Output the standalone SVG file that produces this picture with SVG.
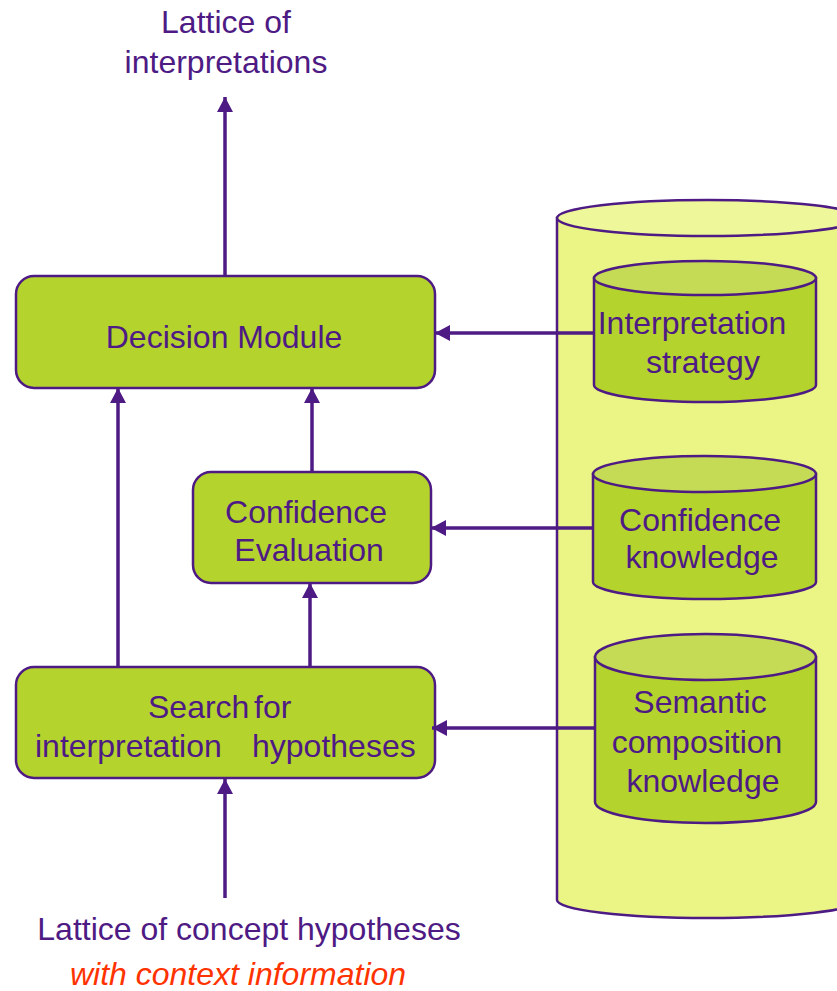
<svg xmlns="http://www.w3.org/2000/svg" width="837" height="991" viewBox="0 0 837 991">
<defs>
<style>
.t{font-family:"Liberation Sans",Arial,sans-serif;font-size:32px;fill:#4E1A84;}
.c{text-anchor:middle;}
.box{fill:#B5D32D;stroke:#4E1A84;stroke-width:2.5;}
.cyl{fill:#B5D32D;stroke:#4E1A84;stroke-width:2.5;}
.cyltop{fill:#C5DA55;stroke:#4E1A84;stroke-width:2.5;}
.big{fill:#EBF585;stroke:#4E1A84;stroke-width:2.5;}
.bigtop{fill:#EEF79A;stroke:#4E1A84;stroke-width:2.5;}
.ln{fill:none;stroke:#4E1A84;stroke-width:3.5;}
.red{font-family:"Liberation Sans",Arial,sans-serif;font-size:32px;font-style:italic;fill:#FF3300;}
</style>
<marker id="ah" viewBox="0 0 15 16" refX="15" refY="8" markerWidth="15" markerHeight="16" markerUnits="userSpaceOnUse" orient="auto">
<path d="M0,0 L15,8 L0,16 Z" fill="#4E1A84"/>
</marker>
</defs>
<rect width="837" height="991" fill="#FFFFFF"/>

<g id="knowledge-base">
<path class="big" d="M557,218 L557,900 A151,18 0 0 0 859,900 L859,218 Z"/>
<ellipse class="bigtop" cx="708" cy="218" rx="151" ry="18"/>
</g>

<g id="interpretation-strategy">
<path class="cyl" d="M594,278 L594,385 A111,17 0 0 0 816,385 L816,278 Z"/>
<ellipse class="cyltop" cx="705" cy="278" rx="111" ry="17"/>
<text class="t c" x="692" y="334">Interpretation</text>
<text class="t c" x="703" y="373">strategy</text>
</g>

<g id="confidence-knowledge">
<path class="cyl" d="M593,474 L593,582 A111.5,17 0 0 0 816,582 L816,474 Z"/>
<ellipse class="cyltop" cx="704.5" cy="474" rx="111.5" ry="18"/>
<text class="t c" x="700" y="531">Confidence</text>
<text class="t c" x="702" y="568">knowledge</text>
</g>

<g id="semantic-composition-knowledge">
<path class="cyl" d="M595,657 L595,802 A110.5,21 0 0 0 816,802 L816,657 Z"/>
<ellipse class="cyltop" cx="705.5" cy="657" rx="110.5" ry="23"/>
<text class="t c" x="700" y="713">Semantic</text>
<text class="t c" x="697" y="753">composition</text>
<text class="t c" x="703" y="792">knowledge</text>
</g>

<g id="decision-module">
<rect class="box" x="16" y="276" width="419" height="112" rx="18" ry="18"/>
<text class="t c" x="224" y="348">Decision Module</text>
</g>

<g id="confidence-evaluation">
<rect class="box" x="193" y="472" width="238" height="111" rx="18" ry="18"/>
<text class="t c" x="306" y="523">Confidence</text>
<text class="t c" x="309" y="561">Evaluation</text>
</g>

<g id="search">
<rect class="box" x="16" y="667" width="419" height="111" rx="18" ry="18"/>
<text class="t" y="718"><tspan x="148">Search</tspan><tspan x="254">for</tspan></text>
<text class="t" y="757"><tspan x="35">interpretation</tspan><tspan x="252">hypotheses</tspan></text>
</g>

<g id="labels">
<text class="t c" x="226" y="33">Lattice of</text>
<text class="t c" x="226" y="73">interpretations</text>
<text class="t c" x="249" y="940">Lattice of concept hypotheses</text>
<text class="red c" x="238" y="985">with context information</text>
</g>

<g id="connectors">
<path class="ln" d="M225,276 L225,97" marker-end="url(#ah)"/>
<path class="ln" d="M594,333 L435,333" marker-end="url(#ah)"/>
<path class="ln" d="M593,528 L431,528" marker-end="url(#ah)"/>
<path class="ln" d="M595,728 L432,728" marker-end="url(#ah)"/>
<path class="ln" d="M118,667 L118,388" marker-end="url(#ah)"/>
<path class="ln" d="M310,667 L310,583" marker-end="url(#ah)"/>
<path class="ln" d="M312,472 L312,388" marker-end="url(#ah)"/>
<path class="ln" d="M225,898 L225,779" marker-end="url(#ah)"/>
</g>
</svg>
